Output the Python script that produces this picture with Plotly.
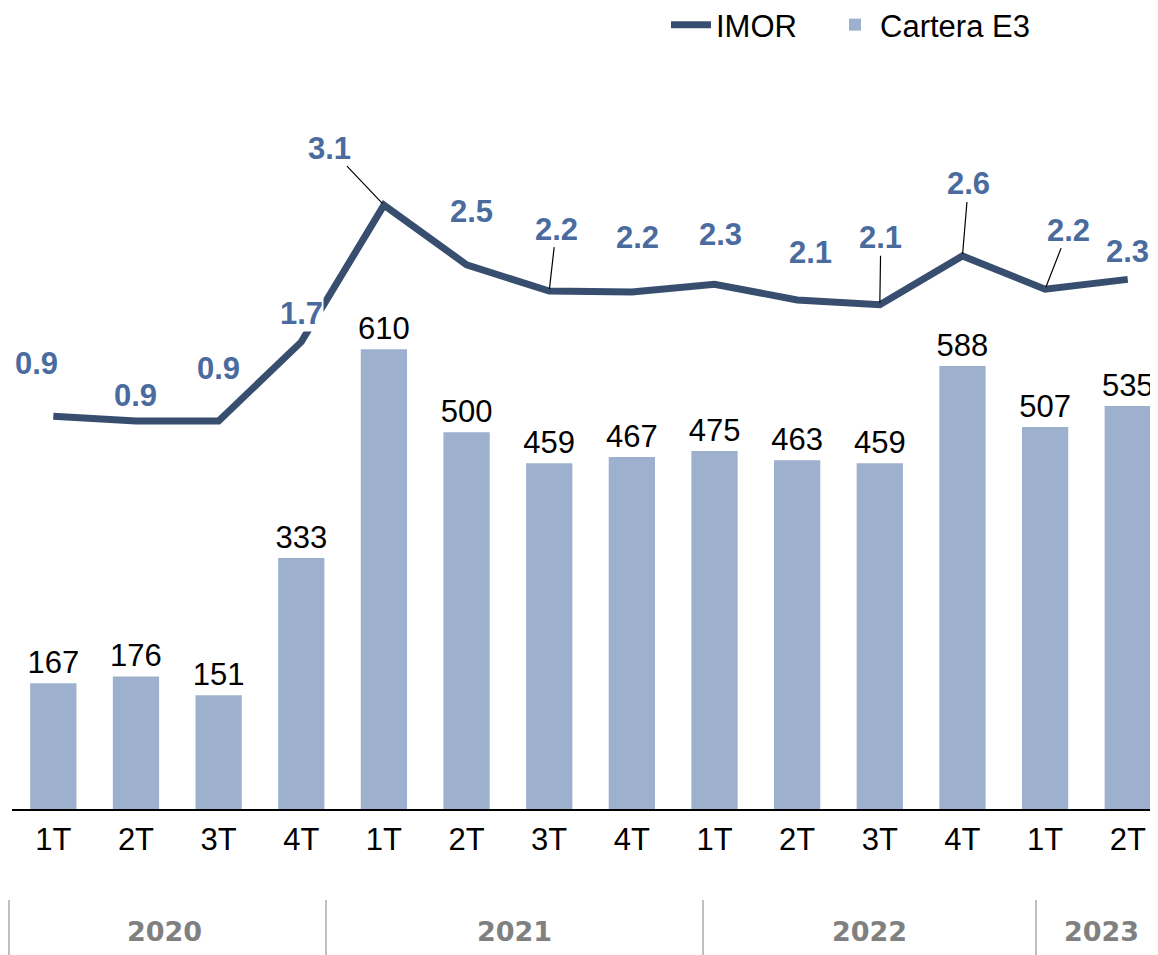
import plotly.graph_objects as go

# ---- data ----
quarters = ["1T", "2T", "3T", "4T", "1T", "2T", "3T", "4T", "1T", "2T", "3T", "4T", "1T", "2T"]
years = ["2020", "2021", "2022", "2023"]
cartera_e3 = [167, 176, 151, 333, 610, 500, 459, 467, 475, 463, 459, 588, 507, 535]
imor = [0.94, 0.89, 0.89, 1.70, 3.10, 2.49, 2.22, 2.21, 2.29, 2.13, 2.08, 2.58, 2.24, 2.34]

# ---- style / layout constants ----
OFF = 8  # page body margin
W, H = 1158 - OFF, 955 - OFF
ML, MR, MT, MB = 12 - OFF, 0, 60 - OFF, 146
PW, PH = W - ML - MR, H - MT - MB
BAR_COLOR = "#9DB0CE"
LINE_COLOR = "#374E6E"
LABEL_COLOR = "#4A6B9E"
FONT = "Liberation Sans, Arial, sans-serif"
FS = 31

x = list(range(len(quarters)))

# label placement (pixel offsets from point): (dx, dy, leader)
label_offsets = [
    (-17, -53, False), (0, -26, False), (0, -53, False), (0, -28, False),
    (-54, -57, True), (5, -53, False), (7, -62, True), (6, -55, False),
    (6, -50, False), (13, -47, False), (1, -67, True), (6, -72, True),
    (23, -59, True), (0, -28, False),
]

fig = go.Figure()
fig.add_trace(go.Bar(
    x=x, y=cartera_e3, name="Cartera E3", marker=dict(color=BAR_COLOR, line_width=0),
    width=0.56, text=[str(v) for v in cartera_e3], textposition="outside",
    constraintext="none",
    textfont=dict(family=FONT, size=FS, color="black"), cliponaxis=False,
    legend="legend2",
))
fig.add_trace(go.Scatter(
    x=x, y=imor, name="IMOR", mode="lines", yaxis="y2",
    line=dict(color=LINE_COLOR, width=7), cliponaxis=False, legend="legend",
))

annotations = []
for i, (v, (dx, dy, leader)) in enumerate(zip(imor, label_offsets)):
    txt = f"{v:.1f}"
    common = dict(x=i, y=v, xref="x", yref="y2", text=txt,
                  font=dict(family=FONT, size=FS, color=LABEL_COLOR, weight="bold"))
    if leader:
        annotations.append(dict(**common, showarrow=True, ax=dx, ay=dy, arrowhead=0,
                                arrowwidth=1.2, arrowcolor="black", standoff=2, borderpad=0))
    else:
        annotations.append(dict(**common, showarrow=False, xshift=dx, yshift=-dy,
                                bgcolor="white" if i == 3 else None, borderpad=0))

def px_to_paper_x(px):  # px in page coords
    return (px - OFF - ML) / PW
def py_to_paper_y(py):
    return (H - MB - (py - OFF)) / PH

# year group separators and labels under the axis
sep_px = [9, 326, 703, 1036]
year_cx = [164, 514, 869, 1101]
shapes = []
for sx in sep_px:
    shapes.append(dict(type="line", xref="paper", yref="paper",
                       x0=px_to_paper_x(sx), x1=px_to_paper_x(sx),
                       y0=py_to_paper_y(900), y1=py_to_paper_y(955),
                       line=dict(color="#C0C0C0", width=2)))
for yr, cx in zip(years, year_cx):
    annotations.append(dict(x=px_to_paper_x(cx), y=py_to_paper_y(931), xref="paper", yref="paper",
                            text=yr, showarrow=False, xanchor="center", yanchor="middle",
                            font=dict(family="DejaVu Sans, Verdana, sans-serif", size=27,
                                      color="#808080", weight="bold")))

legend_common = dict(orientation="h", yanchor="middle", xanchor="left",
                     y=py_to_paper_y(25),
                     font=dict(family=FONT, size=FS, color="black"),
                     bgcolor="rgba(0,0,0,0)", itemwidth=40)

fig.update_layout(
    width=W, height=H, margin=dict(l=ML, r=MR, t=MT, b=MB, autoexpand=False),
    paper_bgcolor="white", plot_bgcolor="white",
    font=dict(family=FONT, size=FS, color="black"),
    showlegend=True,
    legend=dict(**legend_common, x=px_to_paper_x(666)),
    legend2=dict(**legend_common, x=px_to_paper_x(830)),
    xaxis=dict(tickmode="array", tickvals=x, ticktext=quarters, range=[-0.5, 13.366],
               showgrid=False, zeroline=False, showline=True, linecolor="black", linewidth=2,
               ticks="", tickfont=dict(family=FONT, size=FS, color="black"), ticklabelstandoff=2),
    yaxis=dict(range=[0, PH / 0.7535], visible=False, showgrid=False, zeroline=False),
    yaxis2=dict(range=[(500 - (H - MB)) / 97.7, (500 - MT) / 97.7], overlaying="y",
                visible=False, showgrid=False, zeroline=False),
    annotations=annotations, shapes=shapes,
)

fig.write_html("out.html")
